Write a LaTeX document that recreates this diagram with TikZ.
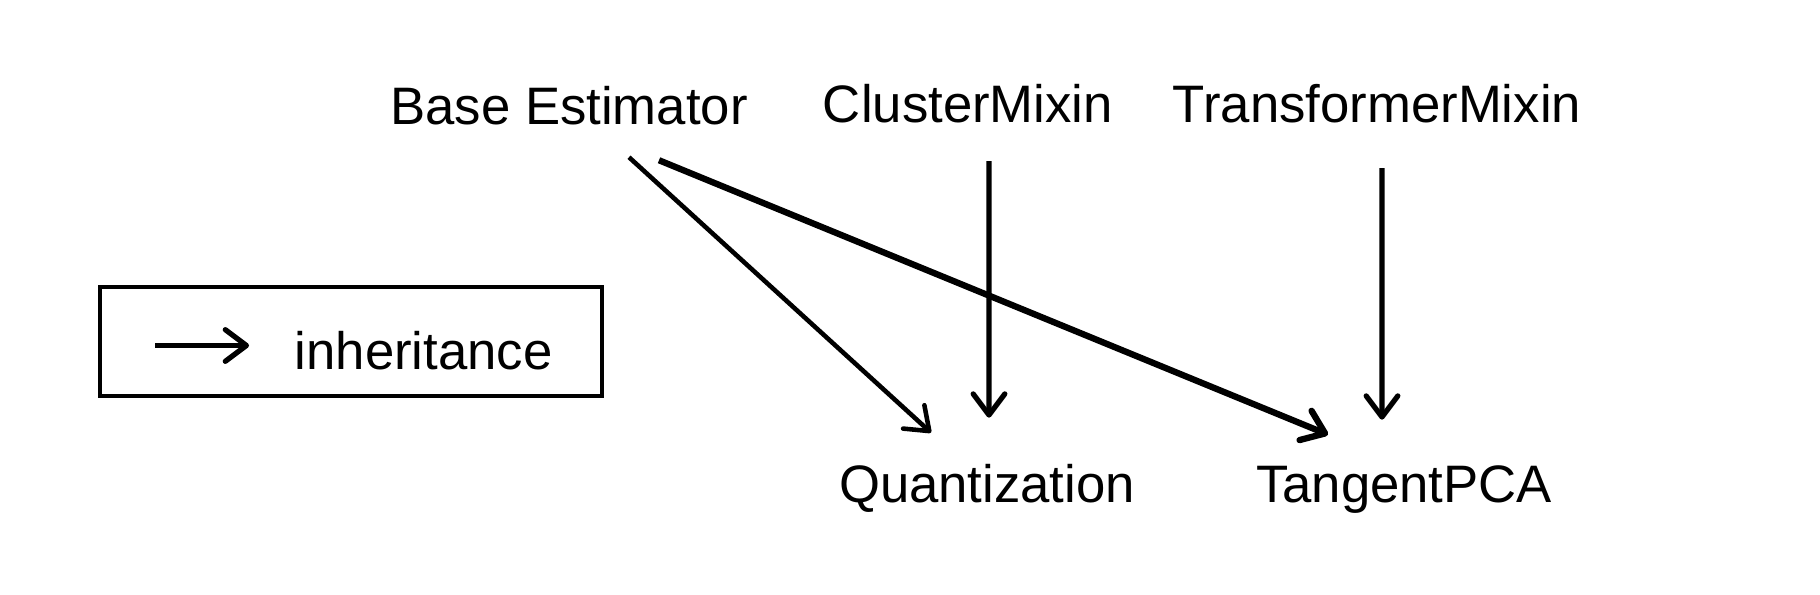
\documentclass[tikz,border=0pt]{standalone}
\usepackage{fontspec}
\setmainfont{Liberation Sans}
\usetikzlibrary{calc, arrows.meta, positioning}

\begin{document}
\begin{tikzpicture}[
		cls/.style={anchor=base, inner sep=0pt, text height=11pt, text depth=3pt, font=\fontsize{15}{18}\selectfont},
		inh/.style={-{Straight Barb[length=6pt,width=9pt,round]}, line width=1.5pt}
	]
	\useasboundingbox (0,0) rectangle (18.2,5.94);
	% classes
	\node[cls] (base) at (5.69,4.69) {Base Estimator};
	\node[cls] (cluster) at (9.68,4.72) {ClusterMixin};
	\node[cls] (transformer) at (13.77,4.72) {TransformerMixin};
	\node[cls] (quant) at (9.87,0.92) {Quantization};
	\node[cls] (tpca) at (14.04,0.92) {TangentPCA};
	% inheritance arrows
	\draw[inh, line width=1.3pt] ([xshift=6.0mm,yshift=-2.1mm]base.south) -- ([xshift=-5.6mm,yshift=3.0mm]quant.north);
	\draw[inh, line width=1.8pt] ([xshift=9.0mm,yshift=-2.4mm]base.south) -- ([xshift=-7.6mm,yshift=2.8mm]tpca.north);
	\draw[inh] ([xshift=2.1mm,yshift=-2.8mm]cluster.south) -- ([xshift=0.2mm,yshift=4.5mm]quant.north);
	\draw[inh] ([xshift=0.5mm,yshift=-3.5mm]transformer.south) -- ([xshift=-2.2mm,yshift=4.3mm]tpca.north);
	% legend
	\node[draw, line width=1.1pt, minimum width=5.02cm, minimum height=1.09cm, inner sep=0pt] (legend) at (3.51,2.525) {};
	\node[cls, anchor=base west] (inhtext) at (2.94,2.25) {inheritance};
	\draw[inh] ([xshift=5.7mm,yshift=-0.4mm]legend.west) -- ([xshift=15.1mm,yshift=-0.4mm]legend.west);
\end{tikzpicture}
\end{document}
